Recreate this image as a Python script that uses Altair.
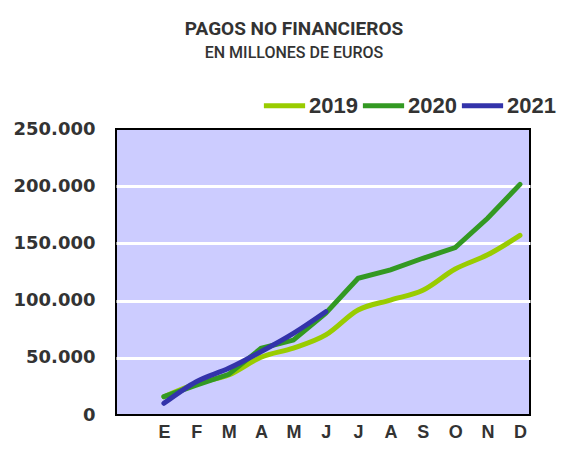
import altair as alt
import pandas as pd

months = ["E", "F", "M", "A", "M", "J", "J", "A", "S", "O", "N", "D"]
v2019 = [16000, 27500, 35000, 50500, 58500, 70000, 91800, 100500, 109000, 127600, 140000, 157000]
v2020 = [16000, 26000, 35500, 58300, 65500, 89000, 119500, 126800, 137000, 146300, 172000, 201600]
v2021 = [10200, 29100, 40800, 55400, 71400, 90300]
series = ["2019", "2020", "2021"]
colors = ["#99cc00", "#339922", "#3333aa"]

rows = []
for name, vals in zip(series, [v2019, v2020, v2021]):
    for i, v in enumerate(vals):
        rows.append({"idx": i, "mes": months[i], "valor": v, "serie": name})
df = pd.DataFrame(rows)

label_expr = "[" + ",".join('"%s"' % m for m in months) + "][datum.value]"
FONT = "Liberation Sans"

base = alt.Chart(df).encode(
    x=alt.X("idx:Q",
            scale=alt.Scale(domain=[-1.48, 11.31], nice=False, zero=False),
            axis=alt.Axis(values=list(range(12)), labelExpr=label_expr, grid=False,
                          ticks=False, domain=False, labelPadding=8, title=None,
                          labelFontSize=18, labelFontWeight="bold", labelColor="#333333",
                          labelFont=FONT)),
    y=alt.Y("valor:Q",
            scale=alt.Scale(domain=[0, 250000], nice=False),
            axis=alt.Axis(values=[0, 50000, 100000, 150000, 200000, 250000],
                          labelExpr="replace(format(datum.value, ','), ',', '.')",
                          grid=True,
                          gridColor={"condition": {"test": "datum.value == 0 || datum.value == 250000",
                                                   "value": "transparent"},
                                     "value": "white"},
                          gridWidth=3, ticks=False,
                          domain=False, labelPadding=21, title=None,
                          labelFontSize=18, labelFontWeight="bold", labelColor="#333333",
                          labelFont="DejaVu Sans")),
    color=alt.Color("serie:N",
                    scale=alt.Scale(domain=series, range=colors),
                    legend=alt.Legend(orient="none", legendX=145, legendY=-47,
                                      direction="horizontal", title=None,
                                      symbolType="stroke", symbolSize=1700,
                                      symbolStrokeWidth=5, labelFontSize=22,
                                      labelFontWeight="bold", labelColor="#333333",
                                      labelFont=FONT, labelOffset=1,
                                      columnPadding=-6, padding=0)),
)

l19 = base.transform_filter("datum.serie == '2019'").mark_line(strokeWidth=5, interpolate="monotone", strokeCap="round")
l20 = base.transform_filter("datum.serie == '2020'").mark_line(strokeWidth=5, strokeCap="round")
l21 = base.transform_filter("datum.serie == '2021'").mark_line(strokeWidth=5, interpolate="monotone", strokeCap="round")

chart = alt.layer(l19, l20, l21).properties(
    width=414, height=286,
    autosize=alt.AutoSizeParams(type="none"),
    padding={"left": 108, "top": 121, "right": 27, "bottom": 27},
    title=alt.TitleParams(text="PAGOS NO FINANCIEROS", subtitle="EN MILLONES DE EUROS",
                          font="Roboto", fontSize=19, fontWeight="bold",
                          color="#333333", subtitleFont="Roboto", subtitleFontSize=16,
                          subtitleColor="#333333", subtitleFontWeight=500,
                          subtitlePadding=6, anchor="middle", dx=-29, dy=4, offset=25),
).configure_view(fill="#ccccff", stroke="black", strokeWidth=2)

chart.save("out.html", embed_options={"renderer": "svg", "actions": False})
